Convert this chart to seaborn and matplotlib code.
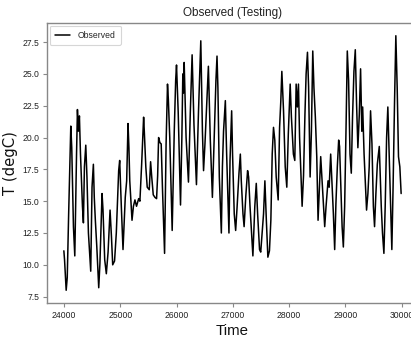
import matplotlib
matplotlib.use("Agg")
import matplotlib.pyplot as plt
import seaborn as sns
import pandas as pd

# ---- data ----
time = [
    24000, 24012, 24041, 24060, 24085, 24123, 24140, 24170, 24194, 24225,
    24241, 24258, 24276, 24295, 24330, 24347, 24365, 24389, 24410, 24436,
    24477, 24500, 24524, 24540, 24559, 24585, 24619, 24640, 24678, 24695,
    24725, 24754, 24785, 24820, 24845, 24867, 24900, 24931, 24973, 24991,
    25020, 25050, 25090, 25115, 25139, 25155, 25170, 25210, 25235, 25262,
    25290, 25328, 25350, 25381, 25416, 25428, 25455, 25480, 25516, 25540,
    25560, 25587, 25617, 25646, 25665, 25682, 25705, 25728, 25750, 25788,
    25815, 25840, 25855, 25880, 25923, 25960, 25985, 26000, 26030, 26071,
    26095, 26112, 26125, 26136, 26170, 26212, 26245, 26277, 26310, 26354,
    26390, 26431, 26460, 26480, 26505, 26531, 26566, 26600, 26637, 26670,
    26700, 26719, 26735, 26760, 26796, 26815, 26835, 26867, 26890, 26931,
    26950, 26979, 26995, 27025, 27050, 27075, 27109, 27133, 27150, 27180,
    27200, 27230, 27262, 27280, 27305, 27333, 27356, 27390, 27416, 27440,
    27474, 27495, 27520, 27545, 27569, 27595, 27622, 27650, 27675, 27699,
    27722, 27745, 27770, 27805, 27830, 27852, 27870, 27885, 27900, 27930,
    27958, 27985, 28006, 28018, 28040, 28075, 28100, 28124, 28145, 28165,
    28185, 28205, 28230, 28255, 28280, 28301, 28325, 28345, 28372, 28395,
    28419, 28440, 28465, 28490, 28513, 28537, 28560, 28585, 28605, 28631,
    28655, 28690, 28710, 28737, 28760, 28785, 28808, 28830, 28855, 28879,
    28895, 28915, 28940, 28962, 28985, 29010, 29032, 29055, 29080, 29103,
    29125, 29150, 29174, 29197, 29220, 29245, 29268, 29290, 29305, 29330,
    29355, 29374, 29398, 29421, 29445, 29470, 29495, 29516, 29540, 29565,
    29600, 29615, 29635, 29657, 29682, 29705, 29730, 29752, 29775, 29800,
    29823, 29845, 29870, 29894, 29918, 29941, 29965, 29988,
]
temp = [
    11.1, 10.4, 8.0, 9.0, 14.0, 20.9, 19.2, 13.0, 10.7, 18.7,
    22.2, 20.5, 21.7, 18.7, 14.6, 13.3, 17.7, 19.4, 16.9, 12.5,
    9.5, 16.1, 17.9, 15.3, 13.5, 11.4, 8.2, 10.1, 15.6, 14.3,
    10.4, 9.3, 11.0, 14.3, 12.2, 10.0, 10.3, 12.5, 17.4, 18.2,
    14.6, 11.2, 15.3, 16.6, 21.1, 19.2, 16.6, 13.5, 14.6, 15.1,
    14.6, 15.2, 15.0, 17.9, 21.6, 20.5, 17.7, 16.1, 15.9, 18.1,
    16.9, 15.5, 15.3, 15.2, 17.0, 20.0, 19.6, 19.5, 16.1, 10.9,
    19.5, 24.2, 23.0, 20.0, 12.7, 20.5, 24.5, 25.7, 22.0, 14.7,
    20.0, 25.0, 23.5, 25.9, 20.0, 16.5, 22.0, 26.5, 21.0, 16.3,
    22.0, 27.6, 20.5, 17.4, 19.5, 22.1, 25.6, 19.8, 15.3, 20.0,
    24.5, 26.4, 23.9, 16.9, 12.5, 17.7, 20.5, 22.9, 18.7, 12.5,
    18.2, 22.1, 18.7, 14.0, 12.7, 14.5, 17.2, 18.7, 16.6, 14.0,
    13.0, 15.4, 17.4, 16.9, 14.6, 12.5, 10.7, 14.6, 16.4, 14.0,
    11.2, 11.0, 12.5, 14.0, 16.6, 13.5, 10.6, 11.1, 13.5, 18.7,
    20.8, 19.8, 16.9, 15.1, 20.8, 22.9, 25.2, 23.7, 22.1, 17.7,
    16.1, 20.3, 22.9, 24.2, 21.6, 18.7, 18.2, 24.2, 22.4, 24.2,
    20.0, 17.7, 14.6, 17.0, 21.8, 25.0, 26.7, 24.0, 16.9, 20.5,
    26.8, 23.9, 21.6, 18.5, 13.5, 16.1, 18.5, 16.6, 15.1, 13.0,
    14.6, 16.6, 16.1, 18.7, 16.4, 14.0, 11.2, 14.8, 17.7, 19.8,
    19.3, 16.6, 13.0, 11.4, 14.6, 20.8, 26.8, 24.5, 18.7, 17.2,
    21.6, 25.2, 26.9, 22.6, 19.2, 21.8, 25.4, 20.5, 22.4, 18.7,
    16.1, 14.3, 15.6, 17.7, 22.1, 19.5, 14.6, 13.0, 15.6, 17.9,
    19.3, 17.2, 14.6, 12.5, 10.9, 14.6, 20.0, 22.4, 18.7, 14.6,
    11.2, 16.1, 22.6, 28.0, 23.9, 18.5, 17.7, 15.6,
]
series_label = "Observed"
title_text = "Observed (Testing)"
x_label = "Time"
y_label = "T (degC)"

df = pd.DataFrame({"Time": time, "T": temp})

sns.set_style("ticks")
plt.rcParams["font.family"] = ["Liberation Sans", "DejaVu Sans"]

fig = plt.figure(figsize=(4.11, 3.37), dpi=100)
ax = fig.add_axes([47 / 411, 34 / 337, 371 / 411, 280 / 337])

sns.lineplot(data=df, x="Time", y="T", color="black", linewidth=1.1,
             label=series_label, ax=ax)

ax.set_xticks([24000, 25000, 26000, 27000, 28000, 29000, 30000])
ax.set_yticks([7.5, 10.0, 12.5, 15.0, 17.5, 20.0, 22.5, 25.0, 27.5])
ax.set_yticklabels(["7.5", "10.0", "12.5", "15.0", "17.5", "20.0",
                    "22.5", "25.0", "27.5"])
ax.tick_params(axis="both", labelsize=6.2, length=3, width=0.8,
               color="#888888", labelcolor="#222222", pad=2.5)

for s in ax.spines.values():
    s.set_color("#888888")
    s.set_linewidth(1.0)

ax.set_title(title_text, fontsize=8.5, color="#222222", pad=5)
ax.set_xlabel(x_label, fontsize=10.8, color="#111111", labelpad=3)
ax.set_ylabel(y_label, fontsize=10.6, family=["DejaVu Sans"],
              color="#111111", labelpad=3)

leg = ax.legend(loc="upper left", fontsize=6.2, handlelength=1.8,
                frameon=True, borderpad=0.6, handletextpad=0.9,
                borderaxespad=0.3)
leg.get_frame().set_edgecolor("#cccccc")
leg.get_frame().set_linewidth(0.8)

fig.savefig("out.png", dpi=100)
